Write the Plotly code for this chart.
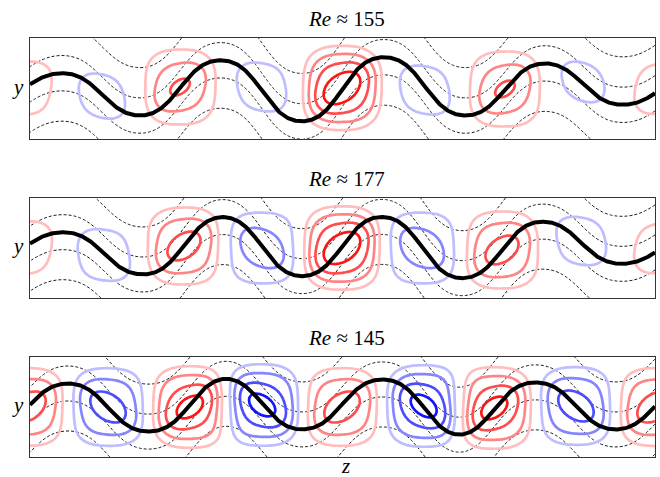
import math
import numpy as np
import plotly.graph_objects as go

# ---------------- data ----------------
titles = ["<i>Re</i> ≈ 155", "<i>Re</i> ≈ 177", "<i>Re</i> ≈ 145"]

# vortex positions along z (0 = left frame, 625 = right frame), their y centre and signed strength
p1_vz = [-85, -5, 72, 150, 232, 312, 395, 475, 553, 630, 710]
p1_vy = [0.0, 0.0, -0.15, 0.03, 0.03, 0.01, -0.03, -0.01, 0.13, 0.0, 0.0]
p1_amp = [-0.2, 0.35, -0.30, 0.64, -0.32, 1.0, -0.32, 0.64, -0.28, 0.33, -0.2]
# level of the thick line between successive vortices (crests / troughs)
p1_plateau = [0.3, -0.3, 0.33, -0.57, 0.59, -0.69, 0.65, -0.57, 0.53, -0.35, 0.3, -0.3]

p2_vz = [-85, -5, 74, 154, 232, 312, 392, 472, 551, 630, 710]
p2_vy = [0.0, 0.0, -0.14, 0.04, 0.0, 0.0, 0.0, -0.04, 0.14, 0.0, 0.0]
p2_amp = [-0.2, 0.35, -0.34, 0.72, -0.56, 1.0, -0.56, 0.72, -0.32, 0.33, -0.2]
p2_plateau = [0.3, -0.3, 0.34, -0.56, 0.66, -0.6, 0.66, -0.64, 0.56, -0.34, 0.3, -0.3]

p3_vz = [-82, -2, 78, 160, 232, 312, 394, 464, 546, 625, 705]
p3_vy = [0.0, 0.0, 0.0, 0.0, 0.04, 0.0, 0.02, -0.02, 0.02, 0.0, 0.0]
p3_amp = [-0.72, 0.74, -0.74, 0.9, -0.9, 0.74, -0.9, 0.9, -0.74, 0.74, -0.72]
p3_plateau = [0.5, -0.5, 0.5, -0.52, 0.62, -0.48, 0.58, -0.62, 0.52, -0.48, 0.5, -0.5]

vort_levels = [0.2, 0.4, 0.6, 0.8]
red_colors = ["#ffbdbd", "#ff8585", "#ff4d4d", "#ff1414"]
blue_colors = ["#bdbdff", "#8585ff", "#4d4dff", "#1414ff"]
dash_levels = [-0.95, -0.35, 0.35, 0.95]

panels = [
    (p1_vz, p1_vy, p1_amp, p1_plateau),
    (p2_vz, p2_vy, p2_amp, p2_plateau),
    (p3_vz, p3_vy, p3_amp, p3_plateau),
]

# ---------------- model fields ----------------
Z_LEN = 625.0
zs = np.linspace(0, Z_LEN, 314)
ys = np.linspace(-1, 1, 101)
ZZ, YY = np.meshgrid(zs, ys)
zf = np.linspace(0, Z_LEN, 1251)
erf = np.vectorize(math.erf)

BASE_W = 0.65            # weight of the flat, rounded-square part of each vortex
BZ, BY, SQ = 40.0, 0.80, 2.6   # rounded-square part size and squareness
CZ, CY, TILT = 20.0, 0.38, 28.0   # tilted core size and shear
W = 26.0                 # width of the steps of the thick line


def eta(z, vz, plateau):
    out = np.full_like(z, plateau[0], dtype=float)
    for i, zc in enumerate(vz):
        out += (plateau[i + 1] - plateau[i]) * 0.5 * (1 + erf((z - zc) / W))
    return out


def vort(vz, vy, amp):
    F = np.zeros_like(ZZ)
    for zc, yc, a in zip(vz, vy, amp):
        dy = YY - yc
        dz = ZZ - zc
        R = (np.abs(dz / BZ) ** SQ + np.abs(dy / BY) ** SQ) ** (1 / SQ)
        base = np.exp(-R ** 4)
        dzc = dz - np.sign(a) * TILT * dy
        core = np.exp(-(dzc / CZ) ** 2 - (dy / CY) ** 2)
        F += a * (BASE_W * base + (1 - BASE_W) * core)
    return F


# ---------------- layout geometry ----------------
W_PX, H_PX = 660, 477
ML, MR = 30, 5
boxes = [(38, 139), (198, 298), (357, 457)]

fig = go.Figure()
layout = dict(
    width=W_PX, height=H_PX, margin=dict(l=ML, r=MR, t=0, b=0),
    paper_bgcolor="white", plot_bgcolor="white", showlegend=False,
)
annotations = []

for k, (vz, vy, amp, plateau) in enumerate(panels):
    xa = "x" if k == 0 else f"x{k+1}"
    ya = "y" if k == 0 else f"y{k+1}"
    top, bot = boxes[k]
    dom = [1 - bot / H_PX, 1 - top / H_PX]
    axcommon = dict(showticklabels=False, ticks="", showgrid=False, zeroline=False,
                    showline=True, mirror=True, linecolor="#333333", linewidth=1.4)
    layout["xaxis" if k == 0 else f"xaxis{k+1}"] = dict(range=[0, Z_LEN], domain=[0, 1],
                                                        anchor=ya, **axcommon)
    layout["yaxis" if k == 0 else f"yaxis{k+1}"] = dict(range=[-1, 1], domain=dom,
                                                        anchor=xa, **axcommon)

    U = (YY - eta(ZZ, vz, plateau)).astype(np.float32)
    F = vort(vz, vy, amp).astype(np.float32)

    for lv in dash_levels:
        fig.add_trace(go.Contour(
            x=zs, y=ys, z=U, xaxis=xa, yaxis=ya, showscale=False, hoverinfo="skip",
            contours=dict(start=lv, end=lv, size=1, coloring="none"),
            line=dict(color="black", width=0.9, dash="3px,2px", smoothing=1)))
    for lv, rc, bc in zip(vort_levels, red_colors, blue_colors):
        fig.add_trace(go.Contour(
            x=zs, y=ys, z=F, xaxis=xa, yaxis=ya, showscale=False, hoverinfo="skip",
            contours=dict(start=lv, end=lv, size=1, coloring="none"),
            line=dict(color=rc, width=2.7, smoothing=1)))
        fig.add_trace(go.Contour(
            x=zs, y=ys, z=F, xaxis=xa, yaxis=ya, showscale=False, hoverinfo="skip",
            contours=dict(start=-lv, end=-lv, size=1, coloring="none"),
            line=dict(color=bc, width=2.7, smoothing=1)))
    fig.add_trace(go.Scatter(x=zf, y=eta(zf, vz, plateau), mode="lines", xaxis=xa, yaxis=ya,
                             line=dict(color="black", width=4), hoverinfo="skip"))

    annotations.append(dict(text=titles[k], xref="paper", yref="paper",
                            x=(346 - ML) / (W_PX - ML - MR), y=1 - (top - 19) / H_PX,
                            xanchor="center", yanchor="middle", showarrow=False,
                            font=dict(family="Liberation Serif", size=21, color="black")))
    annotations.append(dict(text="<i>y</i>", xref="paper", yref="paper",
                            x=(18 - ML) / (W_PX - ML - MR), y=1 - ((top + bot) / 2 - 2) / H_PX,
                            xanchor="center", yanchor="middle", showarrow=False,
                            font=dict(family="Liberation Serif", size=21, color="black")))

annotations.append(dict(text="<i>z</i>", xref="paper", yref="paper",
                        x=(345 - ML) / (W_PX - ML - MR), y=1 - 466 / H_PX,
                        xanchor="center", yanchor="middle", showarrow=False,
                        font=dict(family="Liberation Serif", size=21, color="black")))
layout["annotations"] = annotations
fig.update_layout(**layout)
fig.write_html("out.html")
